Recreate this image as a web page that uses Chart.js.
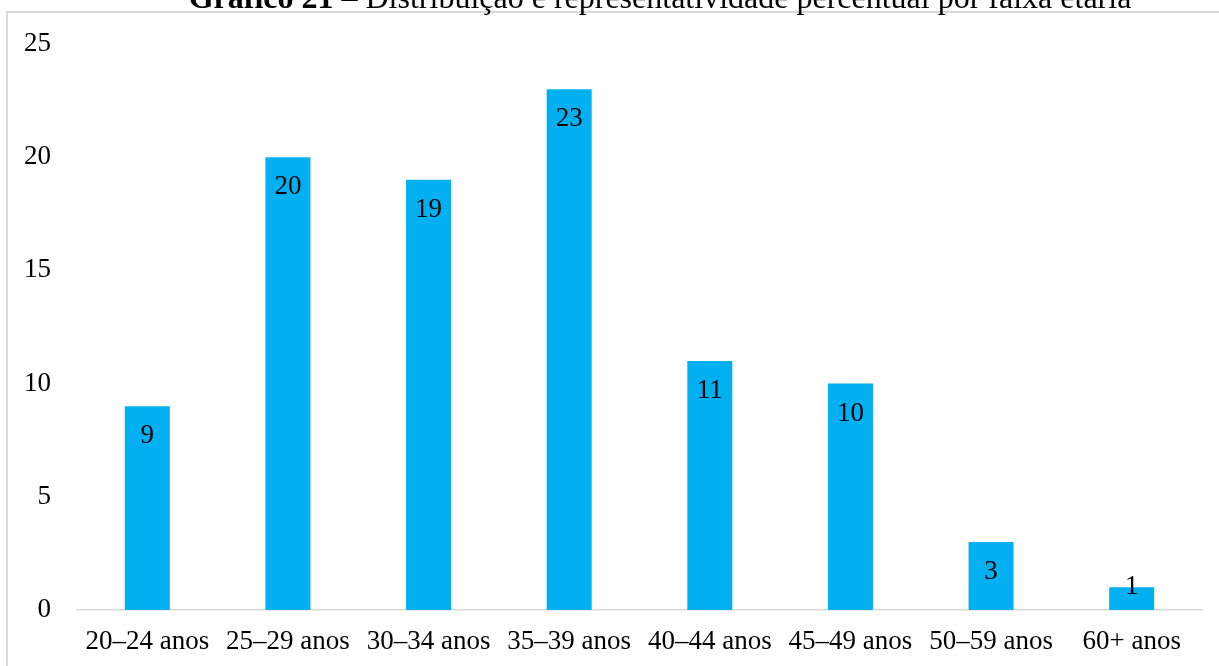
<!DOCTYPE html>
<html>
<head>
<meta charset="utf-8">
<script src="https://cdn.jsdelivr.net/npm/chart.js@4"></script>
<style>
  html, body { margin: 0; padding: 0; background: #fff; }
  #wrap { position: relative; width: 1219px; height: 666px; }
</style>
</head>
<body>
<div id="wrap"><canvas id="c" width="1219" height="666"></canvas></div>
<script>
const categories = ['20–24 anos', '25–29 anos', '30–34 anos', '35–39 anos', '40–44 anos', '45–49 anos', '50–59 anos', '60+ anos'];
const values = [9, 20, 19, 23, 11, 10, 3, 1];
const yTicks = [0, 5, 10, 15, 20, 25];
const titleBold = 'Gráfico 21';
const titleRest = ' – Distribuição e representatividade percentual por faixa etária';

const FONT = '"Liberation Serif", "Times New Roman", serif';
const TEXT_SIZE = 27;
const TITLE_SIZE = 32;

// Frame and title drawn around the plot
const frameAndTitle = {
  id: 'frameAndTitle',
  beforeDraw(chart) {
    const ctx = chart.ctx;
    ctx.save();
    ctx.fillStyle = '#ffffff';
    ctx.fillRect(0, 0, chart.width, chart.height);
    ctx.strokeStyle = '#d9d9d9';
    ctx.lineWidth = 2;
    ctx.strokeRect(7, 12, chart.width + 50, chart.height + 50);
    ctx.restore();
  },
  afterDraw(chart) {
    const ctx = chart.ctx;
    ctx.save();
    ctx.fillStyle = '#000';
    ctx.textBaseline = 'alphabetic';
    ctx.font = 'bold ' + TITLE_SIZE + 'px ' + FONT;
    const wb = ctx.measureText(titleBold).width;
    ctx.font = TITLE_SIZE + 'px ' + FONT;
    const wr = ctx.measureText(titleRest).width;
    const cx = 660;
    const x = cx - (wb + wr) / 2;
    ctx.font = 'bold ' + TITLE_SIZE + 'px ' + FONT;
    ctx.fillText(titleBold, x, 8);
    ctx.font = TITLE_SIZE + 'px ' + FONT;
    ctx.fillText(titleRest, x + wb, 8);
    ctx.restore();
  }
};

// Value labels inside the top of each bar
const valueLabels = {
  id: 'valueLabels',
  afterDatasetsDraw(chart) {
    const ctx = chart.ctx;
    const meta = chart.getDatasetMeta(0);
    const base = chart.scales.y.getPixelForValue(0);
    ctx.save();
    ctx.font = TEXT_SIZE + 'px ' + FONT;
    ctx.fillStyle = '#000';
    ctx.textAlign = 'center';
    ctx.textBaseline = 'alphabetic';
    meta.data.forEach((bar, i) => {
      const y = Math.min(bar.y + 37, base - 16);
      ctx.fillText(String(values[i]), bar.x, y);
    });
    ctx.restore();
  }
};

new Chart(document.getElementById('c'), {
  type: 'bar',
  data: {
    labels: categories,
    datasets: [{
      data: values,
      backgroundColor: '#00b0f0',
      borderWidth: 0,
      categoryPercentage: 1,
      barPercentage: 0.32
    }]
  },
  options: {
    responsive: false,
    animation: false,
    events: [],
    layout: { padding: { top: 44, right: 17, left: 0, bottom: 0 } },
    plugins: {
      legend: { display: false },
      title: { display: false },
      tooltip: { enabled: false }
    },
    scales: {
      x: {
        grid: { display: false, drawTicks: false },
        border: { display: true, color: '#d9d9d9', width: 1.5 },
        ticks: {
          color: '#000',
          font: { family: FONT, size: TEXT_SIZE },
          padding: 16,
          maxRotation: 0,
          autoSkip: false
        },
        afterFit(scale) { scale.height = 56; }
      },
      y: {
        min: 0,
        max: 25,
        afterBuildTicks(scale) { scale.ticks = yTicks.map(v => ({ value: v })); },
        grid: { display: false, drawTicks: false },
        border: { display: false },
        ticks: {
          color: '#000',
          font: { family: FONT, size: TEXT_SIZE },
          padding: 26
        },
        afterFit(scale) { scale.width = 77; }
      }
    }
  },
  plugins: [frameAndTitle, valueLabels]
});
</script>
</body>
</html>
